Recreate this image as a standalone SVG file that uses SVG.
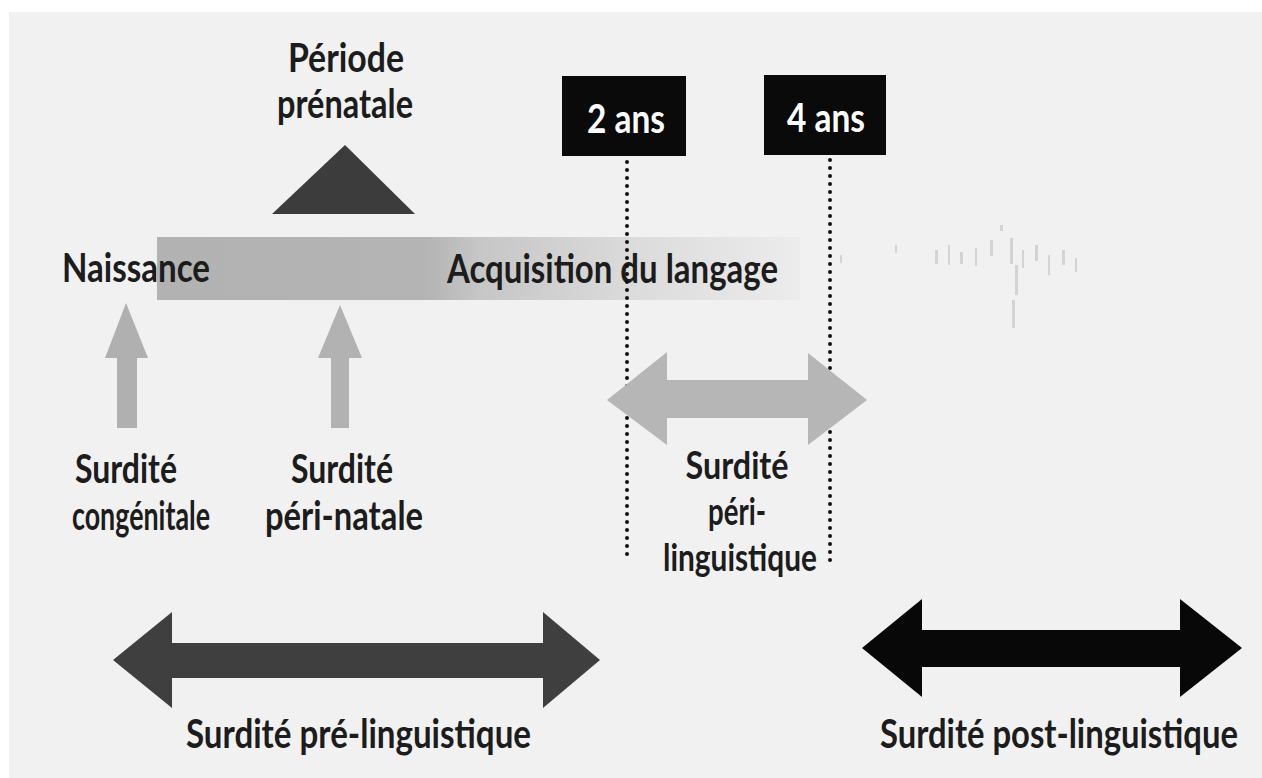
<svg xmlns="http://www.w3.org/2000/svg" width="1262" height="778" viewBox="0 0 1262 778">
<defs>
<style>
.t{font-family:Lato,"Liberation Sans",sans-serif;font-weight:bold;font-size:41px;fill:#1c1c1c;}
.s{font-size:38px;}
.w{fill:#ffffff;}
.dot{stroke:#111;stroke-width:4;stroke-linecap:round;stroke-dasharray:0 8;fill:none;}
</style>
<linearGradient id="bar" gradientUnits="userSpaceOnUse" x1="157" y1="0" x2="800" y2="0">
<stop offset="0" stop-color="#b2b2b2"/>
<stop offset="0.42" stop-color="#b4b4b4"/>
<stop offset="0.5" stop-color="#c6c6c6"/>
<stop offset="0.75" stop-color="#dcdcdc"/>
<stop offset="1" stop-color="#ececec"/>
</linearGradient>
</defs>
<rect width="1262" height="778" fill="#ffffff"/>
<rect x="9" y="12" width="1253" height="766" fill="#f1f1f1"/>

<g id="timeline-bar">
<rect x="157" y="237" width="643" height="63" fill="url(#bar)"/>
<g fill="#cccccc" opacity="0.8">
<rect x="935" y="250" width="3" height="14"/><rect x="948" y="245" width="2" height="20"/>
<rect x="960" y="252" width="3" height="12"/><rect x="975" y="248" width="2" height="18"/>
<rect x="990" y="240" width="3" height="16"/><rect x="1000" y="225" width="3" height="6"/>
<rect x="1010" y="238" width="3" height="26"/><rect x="1015" y="265" width="3" height="30"/>
<rect x="1022" y="250" width="2" height="18"/><rect x="1035" y="245" width="3" height="16"/>
<rect x="1048" y="255" width="2" height="20"/><rect x="1062" y="250" width="3" height="15"/>
<rect x="1075" y="258" width="2" height="14"/><rect x="1012" y="300" width="3" height="28"/>
<rect x="895" y="245" width="2" height="8"/><rect x="840" y="255" width="2" height="8"/>
</g>
</g>

<g id="prenatal">
<text class="t" x="346" y="72" text-anchor="middle" textLength="116" lengthAdjust="spacingAndGlyphs">Période</text>
<text class="t" x="345" y="118" text-anchor="middle" textLength="136" lengthAdjust="spacingAndGlyphs">prénatale</text>
<polygon points="345,145 415,214 272,214" fill="#3c3c3c"/>
</g>

<g id="age2">
<rect x="562" y="76" width="124" height="80" fill="#0a0a0a"/>
<text class="t w" x="626" y="133" text-anchor="middle" textLength="78" lengthAdjust="spacingAndGlyphs">2 ans</text>
</g>
<g id="age4">
<rect x="764" y="75" width="122" height="80" fill="#0a0a0a"/>
<text class="t w" x="826" y="132" text-anchor="middle" textLength="78" lengthAdjust="spacingAndGlyphs">4 ans</text>
</g>

<g id="naissance">
<text class="t" x="62" y="282" textLength="148" lengthAdjust="spacingAndGlyphs">Naissance</text>
</g>
<g id="acquisition">
<text class="t" x="447" y="283" textLength="331" lengthAdjust="spacingAndGlyphs">Acquisition du langage</text>
</g>

<g id="connectors">
<line class="dot" x1="627" y1="162" x2="627" y2="560"/>
<line class="dot" x1="830" y1="160" x2="830" y2="568"/>
<polygon points="126,303 148,358 137,358 137,428 117,428 117,358 105,358" fill="#b0b0b0"/>
<polygon points="340,305 362,358 349,358 349,428 331,428 331,358 318,358" fill="#b2b2b2"/>
<polygon points="607,400 667,352 667,380 808,380 808,353 867,400 808,445 808,418 667,418 667,445" fill="#b6b6b6"/>
<polygon points="113,660 172,612 172,643 543,643 543,612 600,660 543,708 543,678 172,678 172,708" fill="#3f3f3f"/>
<polygon points="862,648 922,599 922,630 1180,630 1180,599 1242,648 1180,697 1180,667 922,667 922,697" fill="#080808"/>
</g>

<g id="congenitale">
<text class="t" x="126" y="483" text-anchor="middle" textLength="102" lengthAdjust="spacingAndGlyphs">Surdité</text>
<text class="t" x="141" y="530" text-anchor="middle" textLength="138" lengthAdjust="spacingAndGlyphs">congénitale</text>
</g>
<g id="perinatale">
<text class="t" x="342" y="483" text-anchor="middle" textLength="102" lengthAdjust="spacingAndGlyphs">Surdité</text>
<text class="t" x="344" y="530" text-anchor="middle" textLength="158" lengthAdjust="spacingAndGlyphs">péri-natale</text>
</g>
<g id="perilinguistique">
<text class="t s" x="737" y="479" text-anchor="middle" textLength="103" lengthAdjust="spacingAndGlyphs">Surdité</text>
<text class="t s" x="737" y="525" text-anchor="middle" textLength="58" lengthAdjust="spacingAndGlyphs">péri-</text>
<text class="t s" x="740" y="571" text-anchor="middle" textLength="154" lengthAdjust="spacingAndGlyphs">linguistique</text>
</g>
<g id="prelinguistique">
<text class="t" x="186" y="748" textLength="345" lengthAdjust="spacingAndGlyphs">Surdité pré-linguistique</text>
</g>
<g id="postlinguistique">
<text class="t" transform="translate(880,748) scale(0.8,1)" x="0" y="0">Surdité post-linguistique</text>
</g>
</svg>
